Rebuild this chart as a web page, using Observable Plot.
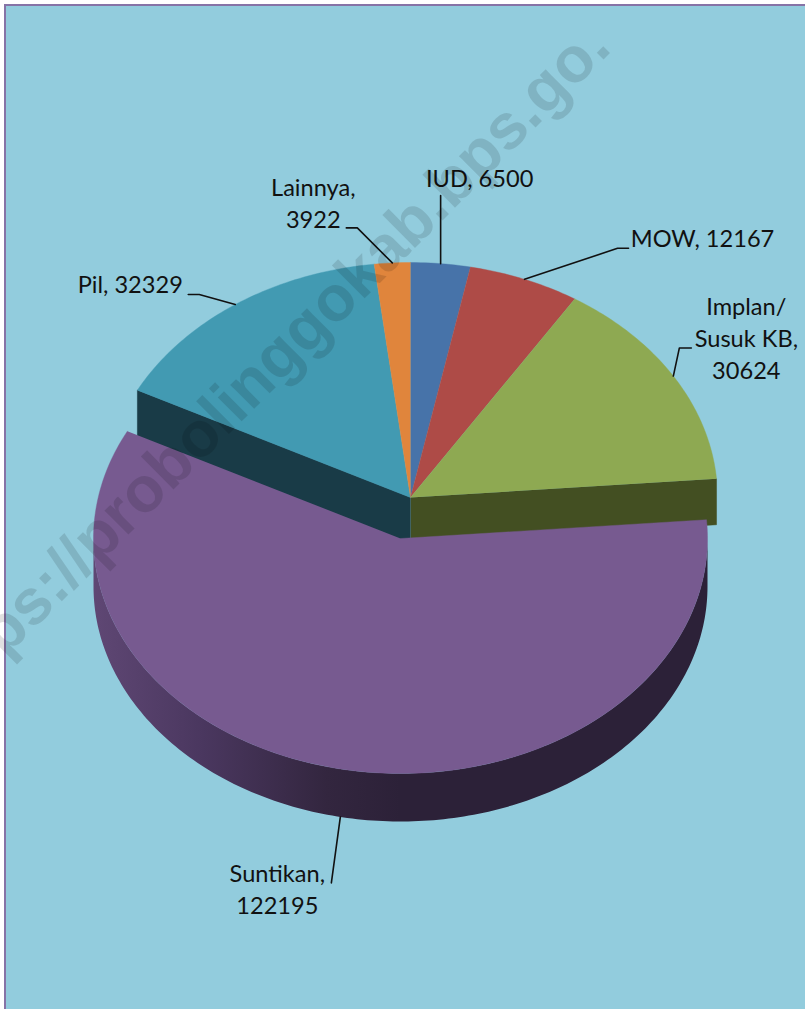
<!DOCTYPE html>
<html>
<head>
<meta charset="utf-8">
<script src="https://cdn.jsdelivr.net/npm/d3@7"></script>
<script src="https://cdn.jsdelivr.net/npm/@observablehq/plot@0.6"></script>
<style>html,body{margin:0;padding:0;background:#fff;overflow:hidden}svg{display:block}</style>
</head>
<body>
<div id="chart"></div>
<script>
// Data, clockwise from 12 o'clock
const categories = ["IUD", "MOW", "Implan/\nSusuk KB", "Suntikan", "Pil", "Lainnya"];
const values = [6500, 12167, 30624, 122195, 32329, 3922];
const labels = ["IUD, 6500", "MOW, 12167", "Implan/\nSusuk KB,\n30624", "Suntikan,\n122195", "Pil, 32329", "Lainnya,\n3922"];
const topColors = ["#4773A9", "#AE4B47", "#8EA952", "#775A90", "#429AB2", "#E0853C"];

// Layout
const W = 805, H = 1009;
const cx = 410, cy = 497, rx = 307, ry = 235, depth = 46;
const explodedShift = [-10, 41], explodedDepth = 48;
const exploded = "Suntikan";
const font = "Lato";
// Leader elbows and label positions, as offsets from each slice's rim anchor
const leaderOffsets = {
  "IUD": [[0, -68]],
  "MOW": [[93, -31], [104, -31]],
  "Implan/\nSusuk KB": [[6, -28], [18, -28]],
  "Suntikan": [[-9, 66]],
  "Pil": [[-36, -10], [-47, -10]],
  "Lainnya": [[-35, -35], [-46, -35]]
};
const labelOffsets = {
  "IUD": [39, -87],
  "MOW": [178, -43],
  "Implan/\nSusuk KB": [73, -39],
  "Suntikan": [-63, 71],
  "Pil": [-105, -22],
  "Lainnya": [-79, -61]
};

const arcs = d3.pie().sort(null).value(d => d)(values).map((a, i) => ({
  name: categories[i], label: labels[i], color: topColors[i],
  start: a.startAngle, end: a.endAngle, mid: (a.startAngle + a.endAngle) / 2
}));
const onRim = (a, ox = 0, oy = 0) => ({x: cx + ox + rx * Math.sin(a), y: cy + oy - ry * Math.cos(a)});
function arcPts(a0, a1, ox = 0, oy = 0) {
  const n = Math.max(2, Math.ceil((a1 - a0) * 60));
  return d3.range(n + 1).map(i => onRim(a0 + (a1 - a0) * i / n, ox, oy));
}
function slicePts(s) {
  const [ox, oy] = s.name === exploded ? explodedShift : [0, 0];
  return [{x: cx + ox, y: cy + oy}, ...arcPts(s.start, s.end, ox, oy)];
}
const byName = Object.fromEntries(arcs.map(s => [s.name, s]));
const back = arcs.filter(s => s.name !== exploded);
const ex = byName[exploded];

// Side faces seen through the gap
const cutFace = (a, ox, oy, d) => {
  const p = onRim(a, ox, oy);
  return [{x: cx + ox, y: cy + oy}, p, {x: p.x, y: p.y + d}, {x: cx + ox, y: cy + oy + d}];
};
const [ex0, ey0] = explodedShift;
const lo = Math.max(ex.start, Math.PI / 2), hi = Math.min(ex.end, Math.PI * 3 / 2);
const frontTop = arcPts(lo, hi, ex0, ey0);
const wall = [...frontTop, ...frontTop.slice().reverse().map(p => ({x: p.x, y: p.y + explodedDepth}))];

const leaderFor = s => {
  const [ox, oy, d] = s.name === exploded ? [ex0, ey0, explodedDepth] : [0, 0, 0];
  const p = onRim(s.mid, ox, oy);
  const a = {x: p.x, y: p.y + d};
  return [a, ...leaderOffsets[s.name].map(([dx, dy]) => ({x: a.x + dx, y: a.y + dy}))];
};
const labelRows = arcs.map(s => {
  const a = leaderFor(s)[0], o = labelOffsets[s.name];
  return {x: a.x + o[0], y: a.y + o[1], label: s.label};
});

const marks = [
  Plot.rect([{x1: 5, x2: W + 10, y1: 5, y2: H + 10}], {x1: "x1", x2: "x2", y1: "y1", y2: "y2", fill: "#92CCDD", stroke: "#8673A6", strokeWidth: 2}),
  // back group walls
  Plot.line(cutFace(byName["Implan/\nSusuk KB"].end, 0, 0, depth), {x: "x", y: "y", fill: "#434F22", stroke: "#434F22", strokeWidth: 0.5}),
  Plot.line(cutFace(byName["Pil"].start, 0, 0, depth), {x: "x", y: "y", fill: "#193B47", stroke: "#193B47", strokeWidth: 0.5}),
  ...back.map(s => Plot.line(slicePts(s), {x: "x", y: "y", fill: s.color, stroke: s.color, strokeWidth: 0.4})),
  // exploded slice
  Plot.line(wall, {x: "x", y: "y", fill: "url(#wallGrad)", stroke: "none"}),
  Plot.line(slicePts(ex), {x: "x", y: "y", fill: ex.color, stroke: ex.color, strokeWidth: 0.4}),
  // leaders and labels
  ...arcs.map(s => Plot.line(leaderFor(s), {x: "x", y: "y", stroke: "#111", strokeWidth: 1.6})),
  Plot.text(labelRows, {x: "x", y: "y", text: "label", fontFamily: font, fontSize: 23.6, lineHeight: 1.35, fill: "#111", textAnchor: "middle", stroke: "none"}),
  // watermark
  Plot.text(["ps://probolinggokab.bps.go."], {
    x: () => 598, y: () => 35, text: d => d, rotate: -45, textAnchor: "end", lineAnchor: "middle",
    fontFamily: "Liberation Sans", fontWeight: 700, fontSize: 64, fill: "#000", fillOpacity: 0.12, stroke: "none"
  })
];

const chart = Plot.plot({
  width: W, height: H, margin: 0,
  x: {domain: [0, W], range: [0, W], axis: null},
  y: {domain: [0, H], range: [0, H], axis: null},
  style: {background: "#fff"},
  marks
});
const ns = "http://www.w3.org/2000/svg";
const defs = document.createElementNS(ns, "defs");
defs.innerHTML = `<linearGradient id="wallGrad" gradientUnits="userSpaceOnUse" x1="92" x2="707" y1="0" y2="0">
<stop offset="0" stop-color="#5F4774"/><stop offset="0.18" stop-color="#4A375F"/><stop offset="0.38" stop-color="#33263F"/><stop offset="0.5" stop-color="#2C2138"/><stop offset="1" stop-color="#2C2138"/></linearGradient>`;
chart.insertBefore(defs, chart.firstChild);
document.getElementById("chart").appendChild(chart);
</script>
</body>
</html>
